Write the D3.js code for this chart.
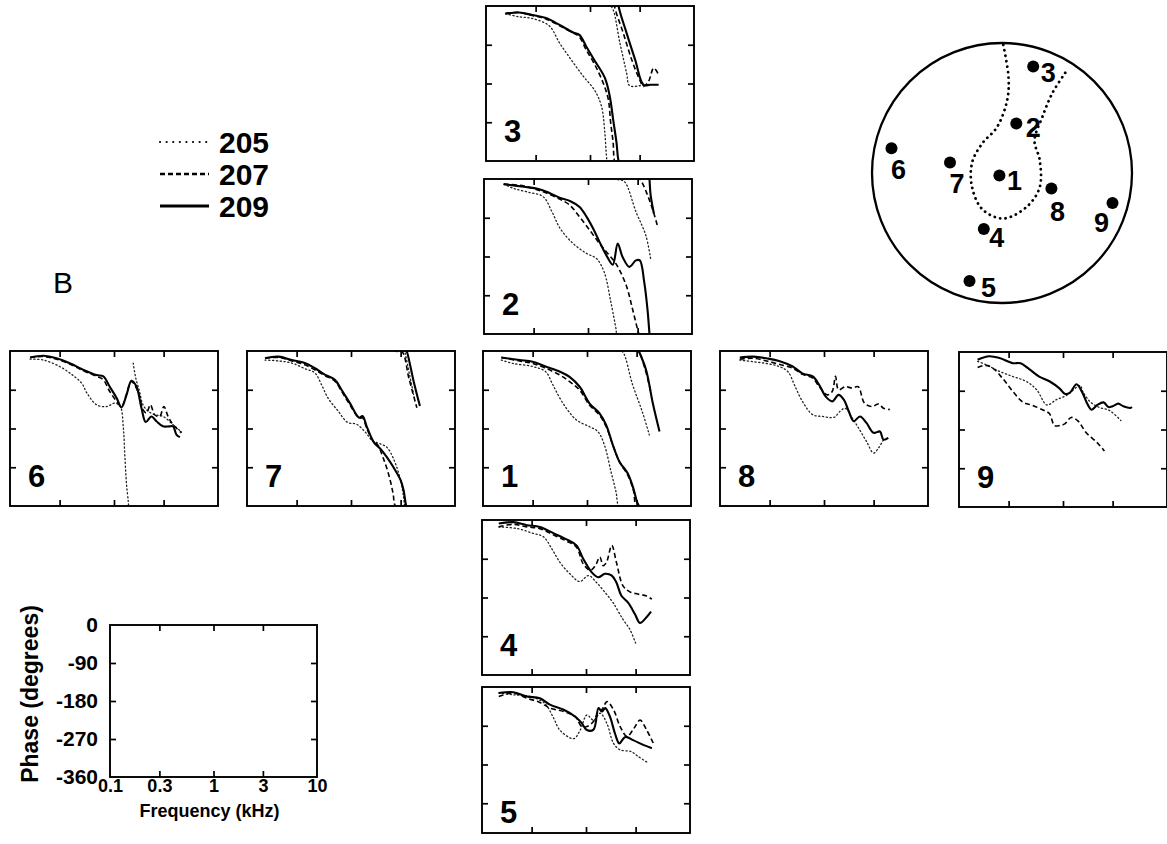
<!DOCTYPE html>
<html>
<head>
<meta charset="utf-8">
<script src="https://cdn.jsdelivr.net/npm/d3@7"></script>
<style>
body { margin: 0; background: #fff; }
svg { display: block; font-family: "Liberation Sans", Arial, sans-serif; font-weight: bold; }
</style>
</head>
<body>
<svg id="fig" width="1167" height="844"></svg>
<script>
// axis settings shared by all small panels
const freqDomain = [0.1, 10];      // kHz, log
const phaseDomain = [-360, 0];     // degrees
const freqTicks = [0.3, 1, 3];
const phaseTicks = [-90, -180, -270];
const refFreqLabels = [0.1, 0.3, 1, 3, 10];
const refPhaseLabels = [0, -90, -180, -270, -360];
const seriesNames = ['205', '207', '209'];

// [frequency kHz, phase deg]; phase below -360 wraps back in from the top
const p3_205 = [[0.154,-18],[0.208,-25],[0.279,-29],[0.405,-46],[0.51,-86],[0.66,-125],[0.86,-163],[1.11,-196],[1.29,-233],[1.39,-295],[1.44,-348],[1.47,-360],[1.61,-362],[1.94,-446],[2.25,-516],[2.4,-545],[3.04,-545],[3.47,-543]];
const p3_207 = [[0.154,-17],[0.208,-15],[0.279,-22],[0.377,-30],[0.51,-46],[0.68,-62],[0.79,-72],[0.92,-102],[1.11,-136],[1.34,-179],[1.50,-217],[1.58,-271],[1.67,-318],[1.72,-360],[2.09,-423],[2.52,-485],[3.0,-531],[3.27,-547],[3.66,-535],[4.1,-504],[4.57,-520]];
const p3_209 = [[0.154,-18],[0.208,-15],[0.279,-21],[0.377,-28],[0.51,-44],[0.68,-61],[0.79,-67],[0.92,-94],[1.11,-127],[1.39,-167],[1.55,-210],[1.67,-264],[1.80,-318],[1.88,-360],[2.25,-423],[2.72,-485],[3.27,-543],[3.80,-543],[4.57,-543]];

const p2_205 = [[0.155,-12],[0.193,-22],[0.26,-30],[0.37,-41],[0.45,-76],[0.54,-115],[0.72,-150],[0.97,-173],[1.21,-185],[1.43,-216],[1.66,-286],[1.86,-348],[1.9,-360],[2.24,-366],[2.89,-436],[3.6,-491],[4.0,-545]];
const p2_207 = [[0.155,-12],[0.24,-16],[0.334,-26],[0.43,-36],[0.54,-47],[0.67,-61],[0.83,-88],[1.04,-119],[1.29,-150],[1.50,-169],[1.86,-197],[2.33,-247],[2.68,-302],[3.05,-356],[3.1,-360],[3.2,-362],[3.73,-397],[4.15,-428],[4.63,-467]];
const p2_209 = [[0.155,-12],[0.24,-18],[0.334,-23],[0.43,-33],[0.54,-44],[0.67,-51],[0.83,-65],[0.97,-88],[1.12,-115],[1.29,-146],[1.50,-177],[1.73,-199],[1.93,-150],[2.15,-181],[2.5,-204],[2.89,-189],[3.15,-189],[3.47,-239],[3.73,-302],[3.9,-360],[4.0,-397],[4.3,-440]];

const p1_205 = [[0.15,-21],[0.194,-29],[0.30,-36],[0.40,-48],[0.47,-79],[0.59,-122],[0.79,-160],[1.06,-176],[1.27,-187],[1.47,-218],[1.70,-280],[1.9,-327],[2.02,-360],[2.2,-362],[2.75,-439],[3.4,-501],[3.98,-555]];
const p1_207 = [[0.15,-15],[0.225,-23],[0.30,-29],[0.40,-40],[0.55,-56],[0.68,-71],[0.85,-91],[1.06,-126],[1.32,-149],[1.53,-176],[1.77,-218],[2.05,-257],[2.46,-288],[2.79,-323],[2.96,-360],[3.15,-362],[3.6,-400],[4.1,-454]];
const p1_209 = [[0.15,-15],[0.225,-21],[0.30,-25],[0.40,-36],[0.55,-48],[0.68,-60],[0.85,-83],[1.06,-122],[1.32,-145],[1.53,-172],[1.77,-218],[2.05,-257],[2.46,-284],[2.79,-319],[3.02,-350],[3.15,-360],[3.7,-404],[4.3,-482],[4.98,-547]];

const p4_205 = [[0.145,-16],[0.22,-20],[0.31,-31],[0.39,-39],[0.47,-67],[0.56,-98],[0.70,-125],[0.87,-143],[1.06,-129],[1.26,-145],[1.57,-172],[1.82,-192],[2.27,-231],[2.64,-254],[3.0,-286]];
const p4_207 = [[0.145,-16],[0.20,-10],[0.27,-16],[0.36,-20],[0.49,-35],[0.65,-49],[0.81,-63],[0.94,-102],[1.10,-117],[1.23,-106],[1.36,-86],[1.46,-106],[1.57,-99],[1.77,-59],[1.96,-98],[2.27,-153],[2.64,-167],[3.15,-172],[3.78,-176],[4.3,-184]];
const p4_209 = [[0.145,-8],[0.20,-5],[0.27,-12],[0.36,-16],[0.49,-31],[0.65,-45],[0.81,-59],[0.94,-90],[1.13,-121],[1.31,-133],[1.52,-125],[1.77,-129],[1.96,-145],[2.19,-176],[2.54,-192],[2.96,-219],[3.3,-239],[3.78,-227],[4.22,-213]];

const p5_205 = [[0.145,-14],[0.20,-18],[0.29,-22],[0.40,-38],[0.49,-73],[0.56,-100],[0.76,-120],[0.88,-100],[1.02,-65],[1.18,-77],[1.37,-61],[1.59,-85],[1.84,-131],[2.13,-146],[2.71,-150],[3.2,-162],[3.83,-174]];
const p5_207 = [[0.145,-22],[0.20,-14],[0.27,-26],[0.36,-36],[0.45,-49],[0.61,-57],[0.79,-69],[0.91,-92],[1.02,-92],[1.18,-80],[1.32,-57],[1.42,-53],[1.59,-34],[1.84,-53],[2.13,-92],[2.48,-115],[2.87,-97],[3.31,-77],[3.83,-100],[4.45,-131]];
const p5_209 = [[0.145,-14],[0.20,-12],[0.27,-22],[0.36,-26],[0.45,-41],[0.61,-53],[0.79,-69],[0.91,-84],[1.02,-100],[1.18,-99],[1.32,-49],[1.42,-57],[1.53,-49],[1.70,-69],[1.9,-108],[2.09,-131],[2.38,-116],[2.87,-124],[3.6,-135],[4.3,-142]];

const p6_205 = [[0.156,-19],[0.21,-21],[0.30,-36],[0.40,-56],[0.49,-75],[0.55,-98],[0.68,-125],[0.85,-129],[1.02,-121],[1.15,-129],[1.23,-179],[1.27,-241],[1.32,-310],[1.37,-348],[1.38,-360],[1.45,null],[1.53,-28],[1.62,-63],[1.76,-94],[1.9,-125],[2.14,-140],[2.46,-148],[2.96,-152],[3.7,-171],[4.45,-188]];
const p6_207 = [[0.156,-15],[0.21,-13],[0.28,-19],[0.38,-31],[0.51,-46],[0.68,-59],[0.79,-67],[0.91,-94],[1.06,-117],[1.18,-129],[1.32,-100],[1.47,-71],[1.70,-94],[1.9,-136],[2.05,-144],[2.24,-125],[2.46,-148],[2.75,-152],[3.02,-129],[3.31,-152],[3.7,-171],[4.45,-190]];
const p6_209 = [[0.156,-15],[0.21,-11],[0.28,-17],[0.38,-29],[0.51,-44],[0.68,-56],[0.79,-59],[0.91,-83],[1.06,-109],[1.18,-131],[1.32,-102],[1.47,-69],[1.64,-82],[1.84,-133],[2.02,-165],[2.29,-152],[2.56,-163],[2.96,-175],[3.4,-175],[3.7,-175],[3.98,-194],[4.3,-200]];

const p7_205 = [[0.149,-21],[0.20,-23],[0.27,-28],[0.36,-41],[0.45,-51],[0.52,-78],[0.60,-109],[0.75,-139],[0.93,-166],[1.13,-170],[1.38,-189],[1.60,-208],[1.93,-216],[2.22,-224],[2.56,-250],[3.0,-300],[3.2,-339],[3.28,-360],[3.3,-362],[3.66,-415],[4.0,-461]];
const p7_207 = [[0.149,-17],[0.20,-15],[0.27,-23],[0.36,-32],[0.45,-44],[0.56,-57],[0.70,-70],[0.81,-93],[0.97,-124],[1.20,-156],[1.29,-155],[1.43,-182],[1.66,-212],[1.78,-216],[2.08,-254],[2.34,-293],[2.54,-331],[2.68,-360],[3.1,-362],[3.6,-423],[4.3,-492]];
const p7_209 = [[0.149,-17],[0.20,-13],[0.27,-21],[0.36,-28],[0.45,-40],[0.56,-55],[0.70,-67],[0.81,-90],[0.97,-120],[1.20,-155],[1.29,-151],[1.43,-178],[1.66,-212],[1.93,-228],[2.22,-247],[2.56,-270],[3.0,-300],[3.2,-323],[3.4,-360],[3.45,-362],[4.0,-430],[4.6,-488]];

const p8_205 = [[0.155,-21],[0.21,-25],[0.28,-29],[0.37,-36],[0.45,-48],[0.52,-79],[0.62,-117],[0.78,-148],[0.97,-152],[1.25,-154],[1.43,-140],[1.60,-133],[1.87,-156],[2.15,-179],[2.56,-210],[3.0,-237],[3.35,-225],[3.73,-206]];
const p8_207 = [[0.155,-19],[0.21,-17],[0.28,-23],[0.37,-31],[0.50,-40],[0.62,-54],[0.78,-63],[0.90,-83],[1.08,-102],[1.20,-94],[1.29,-59],[1.38,-90],[1.60,-83],[1.87,-86],[2.13,-83],[2.45,-121],[2.9,-129],[3.35,-123],[3.73,-133],[4.3,-136]];
const p8_209 = [[0.155,-15],[0.21,-13],[0.28,-17],[0.37,-23],[0.50,-36],[0.62,-52],[0.78,-59],[0.90,-79],[1.04,-106],[1.20,-117],[1.38,-102],[1.55,-113],[1.73,-140],[1.93,-163],[2.22,-152],[2.56,-167],[3.0,-190],[3.45,-187],[3.73,-206],[4.15,-202]];

const p9_205 = [[0.151,-22],[0.18,-29],[0.245,-45],[0.33,-57],[0.44,-68],[0.56,-88],[0.70,-123],[0.86,-111],[1.08,-101],[1.46,-78],[1.55,-92],[1.83,-116],[2.2,-128],[2.8,-136],[3.6,-159]];
const p9_207 = [[0.151,-36],[0.18,-31],[0.21,-37],[0.26,-60],[0.33,-92],[0.41,-116],[0.51,-124],[0.66,-136],[0.74,-143],[0.83,-171],[0.93,-171],[1.04,-167],[1.20,-152],[1.39,-160],[1.68,-188],[2.14,-211],[2.5,-230]];
const p9_209 = [[0.151,-18],[0.195,-10],[0.245,-14],[0.33,-26],[0.39,-26],[0.48,-41],[0.59,-57],[0.74,-68],[0.93,-85],[1.04,-97],[1.16,-95],[1.35,-75],[1.52,-92],[1.68,-116],[1.88,-134],[2.14,-123],[2.45,-117],[2.74,-128],[3.0,-126],[3.4,-120],[3.8,-126],[4.45,-130],[4.6,-128]];

// electrode map, unit circle coordinates (y up)
const siteNames = ['1','2','3','4','5','6','7','8','9'];
const siteX = [-0.02, 0.11, 0.24, -0.14, -0.25, -0.85, -0.40, 0.38, 0.85];
const siteY = [-0.02, 0.38, 0.82, -0.43, -0.83, 0.19, 0.08, -0.12, -0.23];
const outline = [[0.01,0.985],[0.05,0.74],[0.04,0.56],[-0.04,0.35],[-0.15,0.23],[-0.23,0.08],[-0.23,-0.11],[-0.15,-0.28],[0.01,-0.35],[0.19,-0.26],[0.29,-0.11],[0.29,0.10],[0.25,0.25],[0.31,0.43],[0.39,0.62],[0.50,0.79]];

const svg = d3.select('#fig');
const W = 208, H = 155;

const panels = [
    {name: '3', x: 486, y: 6, data: [p3_205, p3_207, p3_209]},
    {name: '2', x: 484, y: 179, data: [p2_205, p2_207, p2_209]},
    {name: '1', x: 483, y: 351, data: [p1_205, p1_207, p1_209]},
    {name: '4', x: 482, y: 520, data: [p4_205, p4_207, p4_209]},
    {name: '5', x: 482, y: 687, data: [p5_205, p5_207, p5_209], frameH: 146},
    {name: '6', x: 10, y: 351, data: [p6_205, p6_207, p6_209]},
    {name: '7', x: 247, y: 351, data: [p7_205, p7_207, p7_209]},
    {name: '8', x: 720, y: 351, data: [p8_205, p8_207, p8_209]},
    {name: '9', x: 959, y: 352, data: [p9_205, p9_207, p9_209]},
];

const lineStyle = {
    '205': {w: 1.3, dash: '1.2,2.6', col: '#222'},
    '207': {w: 1.6, dash: '5,3', col: '#000'},
    '209': {w: 2.1, dash: null, col: '#000'},
};

function innerTicks(g, x, y, fh) {
    g.append('g').call(d3.axisTop(x).tickValues(freqTicks).tickSize(-6).tickFormat(''));
    g.append('g').attr('transform', `translate(0,${fh})`)
        .call(d3.axisBottom(x).tickValues(freqTicks).tickSize(-6).tickFormat(''));
    g.append('g').call(d3.axisLeft(y).tickValues(phaseTicks).tickSize(-6).tickFormat(''));
    g.append('g').attr('transform', `translate(${W},0)`)
        .call(d3.axisRight(y).tickValues(phaseTicks).tickSize(-6).tickFormat(''));
    g.selectAll('.domain').remove();
    g.selectAll('.tick line').attr('stroke', '#000').attr('stroke-width', 1.7);
}

panels.forEach((p, i) => {
    const fh = p.frameH || H;
    const x = d3.scaleLog().domain(freqDomain).range([0, W]);
    const y = d3.scaleLinear().domain(phaseDomain).range([H, 0]);
    const g = svg.append('g').attr('transform', `translate(${p.x},${p.y})`);
    g.append('clipPath').attr('id', 'clip' + i)
        .append('rect').attr('width', W).attr('height', fh);
    const plot = g.append('g').attr('clip-path', `url(#clip${i})`);

    p.data.forEach((series, k) => {
        const st = lineStyle[seriesNames[k]];
        // phase is shown modulo 360: draw each curve again shifted by one turn
        [0, 360].forEach(off => {
            const line = d3.line()
                .defined(d => d[1] !== null)
                .x(d => x(d[0]))
                .y(d => y(d[1] + off))
                .curve(d3.curveCatmullRom.alpha(0.5));
            plot.append('path').datum(series)
                .attr('d', line)
                .attr('fill', 'none')
                .attr('stroke', st.col)
                .attr('stroke-width', st.w)
                .attr('stroke-dasharray', st.dash)
                .attr('stroke-linejoin', 'round')
                .attr('stroke-linecap', k === 0 ? 'round' : 'butt');
        });
    });

    g.append('rect').attr('width', W).attr('height', fh)
        .attr('fill', 'none').attr('stroke', '#000').attr('stroke-width', 1.9);
    innerTicks(g, x, y, fh);

    g.append('text').attr('x', 18).attr('y', H - 19)
        .attr('font-size', 31).text(p.name);
});

// legend
const legend = svg.append('g').attr('transform', 'translate(160,142)');
seriesNames.forEach((s, k) => {
    const st = lineStyle[s];
    legend.append('line').attr('x1', 0).attr('x2', 49)
        .attr('y1', k * 32).attr('y2', k * 32)
        .attr('stroke', '#000').attr('stroke-width', st.w + 0.8)
        .attr('stroke-linecap', k === 0 ? 'round' : 'butt')
        .attr('stroke-dasharray', k === 0 ? '0.1,6.5' : st.dash);
    legend.append('text').attr('x', 59).attr('y', k * 32 + 11)
        .attr('font-size', 30).text(s);
});

svg.append('text').attr('x', 53).attr('y', 293).attr('font-size', 30)
    .attr('font-weight', 'normal').text('B');

// reference axes
{
    const rx = 110, ry = 625, rw = 207, rh = 152;
    const x = d3.scaleLog().domain(freqDomain).range([0, rw]);
    const y = d3.scaleLinear().domain(phaseDomain).range([rh, 0]);
    const g = svg.append('g').attr('transform', `translate(${rx},${ry})`);
    g.append('rect').attr('width', rw).attr('height', rh)
        .attr('fill', 'none').attr('stroke', '#000').attr('stroke-width', 1.9);
    const inner = (axis, tx, ty) => g.append('g').attr('transform', `translate(${tx},${ty})`)
        .call(axis.tickSize(-6).tickFormat(''));
    inner(d3.axisTop(x).tickValues(freqTicks), 0, 0);
    inner(d3.axisBottom(x).tickValues(freqTicks), 0, rh);
    inner(d3.axisLeft(y).tickValues(phaseTicks), 0, 0);
    inner(d3.axisRight(y).tickValues(phaseTicks), rw, 0);

    const yLab = g.append('g').call(d3.axisLeft(y).tickValues(refPhaseLabels).tickSize(0).tickPadding(12)
        .tickFormat(d => d === 0 ? '0' : '-' + Math.abs(d)));
    yLab.selectAll('text').attr('font-size', 21);
    const xLab = g.append('g').attr('transform', `translate(0,${rh})`)
        .call(d3.axisBottom(x).tickValues(refFreqLabels).tickSize(0).tickPadding(2)
        .tickFormat(d => String(d)));
    xLab.selectAll('text').attr('font-size', 18);
    g.selectAll('.domain').remove();
    g.selectAll('.tick line').attr('stroke', '#000').attr('stroke-width', 1.7);
    g.selectAll('.tick text').attr('fill', '#000')
        .attr('font-family', '"Liberation Sans", Arial, sans-serif').attr('font-weight', 'bold');

    svg.append('text').attr('x', rx + rw / 2 - 4).attr('y', 817)
        .attr('text-anchor', 'middle').attr('font-size', 18).text('Frequency (kHz)');
    svg.append('text').attr('transform', `translate(38,${ry + rh / 2 - 7}) rotate(-90)`)
        .attr('text-anchor', 'middle').attr('font-size', 23)
        .text('Phase (degrees)');
}

// electrode map
{
    const cx = 1002, cy = 173, r = 130;
    const mx = d3.scaleLinear().domain([-1, 1]).range([cx - r, cx + r]);
    const my = d3.scaleLinear().domain([-1, 1]).range([cy + r, cy - r]);
    svg.append('circle').attr('cx', cx).attr('cy', cy).attr('r', r)
        .attr('fill', 'none').attr('stroke', '#000').attr('stroke-width', 2.3);
    svg.append('path').datum(outline)
        .attr('d', d3.line().x(d => mx(d[0])).y(d => my(d[1])).curve(d3.curveCatmullRom))
        .attr('fill', 'none').attr('stroke', '#000').attr('stroke-width', 2.8)
        .attr('stroke-linecap', 'round').attr('stroke-dasharray', '0.1,5.4');
    const labelDx = [15, 17, 15, 13, 19, 7, 7, 6, -11];
    const labelDy = [5, 4, 7, 9, 7, 22, 21, 23, 20];
    siteNames.forEach((s, i) => {
        svg.append('circle').attr('cx', mx(siteX[i])).attr('cy', my(siteY[i])).attr('r', 6);
        svg.append('text').attr('x', mx(siteX[i]) + labelDx[i]).attr('y', my(siteY[i]) + labelDy[i])
            .attr('text-anchor', 'middle').attr('dominant-baseline', 'central')
            .attr('font-size', 27).text(s);
    });
}
</script>
</body>
</html>
